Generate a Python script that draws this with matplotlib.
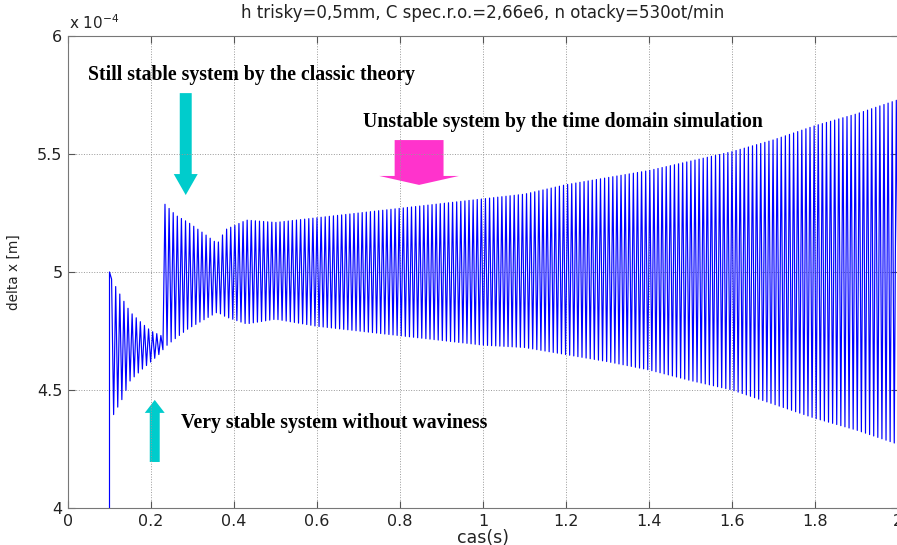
import numpy as np
import matplotlib
matplotlib.use("Agg")
import matplotlib.pyplot as plt
from matplotlib.patches import FancyArrow

# envelope of the oscillation (y in units of 1e-4 m)
env_t = [0.105, 0.13, 0.15, 0.18, 0.2, 0.225, 0.232, 0.26, 0.29, 0.33, 0.36, 0.38,
         0.43, 0.5, 0.6, 0.7, 0.8, 0.9, 1.0, 1.1, 1.2, 1.3, 1.4, 1.5, 1.6, 1.7,
         1.8, 1.9, 2.0]
env_upper = [4.97, 4.89, 4.83, 4.78, 4.75, 4.73, 5.29, 5.24, 5.21, 5.16, 5.12, 5.18,
             5.22, 5.21, 5.23, 5.25, 5.27, 5.29, 5.31, 5.33, 5.37, 5.40, 5.43, 5.47,
             5.51, 5.56, 5.62, 5.67, 5.73]
env_lower = [4.38, 4.46, 4.54, 4.59, 4.62, 4.66, 4.68, 4.72, 4.76, 4.80, 4.83, 4.81,
             4.78, 4.80, 4.77, 4.75, 4.73, 4.71, 4.69, 4.68, 4.65, 4.62, 4.585, 4.54,
             4.50, 4.44, 4.38, 4.33, 4.27]
period = 0.0099  # s, one oscillation
t_start = 0.1
last_value = 4.91

# build the trace: step at t_start, then peaks/troughs following the envelope
half = np.arange(env_t[0], env_t[-1], period / 2)
peaks = np.where(np.arange(len(half)) % 2 == 0,
                 np.interp(half, env_t, env_upper),
                 np.interp(half, env_t, env_lower))
t = np.concatenate([[t_start, t_start], half, [2.0]])
y = np.concatenate([[4.0, 5.0], peaks, [last_value]])

plt.rcParams["font.family"] = "DejaVu Sans"

W, H = 897, 545
fig = plt.figure(figsize=(W / 100, H / 100), dpi=100)
ax = fig.add_axes([68 / W, 1 - 508 / H, (898 - 68) / W, (508 - 36) / H])

ax.plot(t, y, color="#0000ff", lw=0.85)

ax.set_xlim(0, 2)
ax.set_ylim(4, 6)
ax.set_xticks(np.arange(0, 2.01, 0.2))
ax.set_xticklabels(["0", "0.2", "0.4", "0.6", "0.8", "1", "1.2", "1.4", "1.6", "1.8", "2"])
ax.set_yticks([4, 4.5, 5, 5.5, 6])
ax.set_yticklabels(["4", "4.5", "5", "5.5", "6"])
ax.grid(True, linestyle=":", color="#999999", lw=0.7)
ax.tick_params(direction="in", length=5, top=True, right=True,
               labelsize=11.5, colors="#555555", labelcolor="#222222", pad=4)
for s in ax.spines.values():
    s.set_color("#777777")
    s.set_linewidth(0.8)

ax.set_xlabel("cas(s)", fontsize=12.5, labelpad=0, color="#222222")
ax.set_ylabel("delta x [m]", fontsize=9.8, labelpad=12, color="#222222")
ax.set_title("h trisky=0,5mm, C spec.r.o.=2,66e6, n otacky=530ot/min",
             fontsize=12, pad=13, color="#222222")
ax.text(0.001, 1.008, "x 10$^{-4}$", transform=ax.transAxes, fontsize=11,
        va="bottom", ha="left", color="#222222")

# annotations
cyan = "#00cccc"
pink = "#ff33cc"
ax.add_patch(FancyArrow(0.2837, 5.758, 0, 5.326 - 5.758, width=0.0288,
                        head_width=0.0577, head_length=0.089,
                        length_includes_head=True, color=cyan, lw=0))
ax.add_patch(FancyArrow(0.846, 5.559, 0, 5.369 - 5.559, width=0.1178,
                        head_width=0.192, head_length=0.038,
                        length_includes_head=True, color=pink, lw=0))
ax.add_patch(FancyArrow(0.209, 4.195, 0, 4.458 - 4.195, width=0.024,
                        head_width=0.048, head_length=0.055,
                        length_includes_head=True, color=cyan, lw=0))

note = dict(family="Liberation Serif", fontweight="bold", fontsize=14.2,
            va="center", ha="left", color="black")
ax.text(0.048, 5.835, "Still stable system by the classic theory", **note)
ax.text(0.7115, 5.636, "Unstable system by the time domain simulation", **note)
ax.text(0.2716, 4.36, "Very stable system without waviness", **note)

fig.savefig("out.png", dpi=100)
